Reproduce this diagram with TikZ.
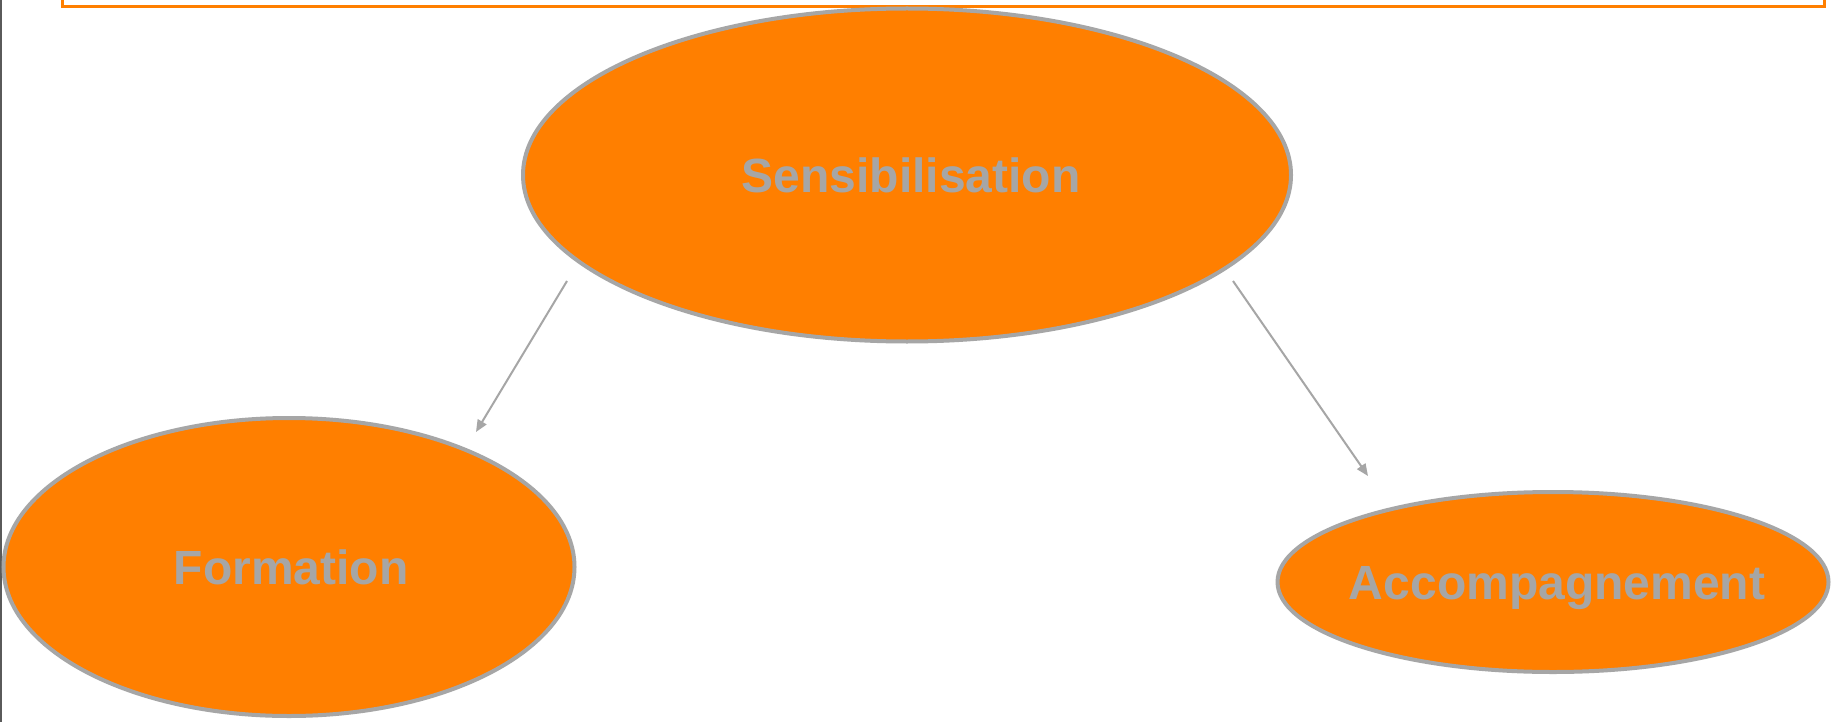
\documentclass[tikz,border=0pt]{standalone}
\usepackage{fontspec}
\setmainfont{Liberation Sans}
\usetikzlibrary{shapes.geometric,arrows.meta}
\definecolor{orng}{RGB}{255,127,0}
\definecolor{gry}{RGB}{166,166,166}
\definecolor{dgry}{RGB}{90,90,90}
\tikzset{
  bubble/.style={ellipse, fill=orng, draw=gry, line width=4pt, inner sep=0pt,
    text=gry, font=\fontsize{48}{56}\selectfont\bfseries, text height=34.5pt, text depth=0pt},
  conn/.style={draw=gry, line width=2pt, -{Triangle[length=12pt,width=10pt]}}
}
\begin{document}
\begin{tikzpicture}[x=1pt,y=-1pt]
\clip (0,0) rectangle (1843,722);
\fill[white] (0,0) rectangle (1843,722);
% left edge line
\draw[dgry, line width=2pt] (1,0) -- (1,722);
% top orange frame (mostly off-canvas)
\draw[orng, line width=3pt] (62,-200) rectangle (1824,7);
\node[bubble, minimum width=768pt, minimum height=333pt] (S) at (907,175) {\makebox[0pt]{\hspace*{8pt}Sensibilisation}};
\node[bubble, minimum width=571pt, minimum height=298pt] (F) at (289,567) {\makebox[0pt]{\hspace*{4pt}Formation}};
\node[bubble, minimum width=551pt, minimum height=180pt] (A) at (1553,582) {\makebox[0pt]{\hspace*{8pt}Accompagnement}};
\coordinate (s1) at (567,281);
\coordinate (f1) at (476,432);
\coordinate (s2) at (1233,281);
\coordinate (a1) at (1368,476);
\draw[conn] (s1) -- (f1);
\draw[conn] (s2) -- (a1);
\end{tikzpicture}
\end{document}
